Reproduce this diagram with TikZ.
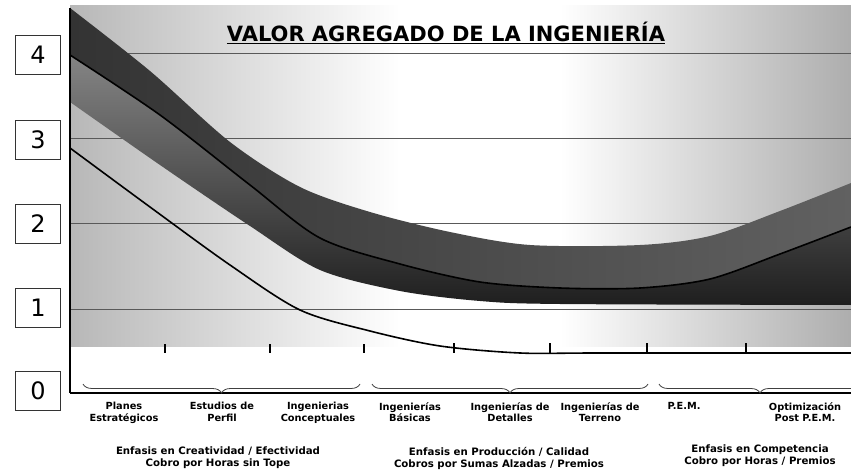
\documentclass[tikz,border=0pt]{standalone}
\usepackage{fontspec}
\setmainfont{DejaVu Sans}
\usetikzlibrary{positioning, decorations.pathreplacing}
\tikzset{
  numbox/.style={draw=black!80, thin, rectangle, minimum width=45pt, minimum height=39pt, inner sep=0pt, font=\fontsize{24}{24}\selectfont},
  cat/.style={anchor=north, align=center, inner sep=0pt, font=\bfseries\fontsize{9.8}{11.5}\selectfont},
  note/.style={anchor=north, align=center, inner sep=0pt, font=\bfseries\fontsize{10.2}{12}\selectfont},
  heading/.style={anchor=base, inner sep=0pt, font=\bfseries\fontsize{21}{21}\selectfont},
  grid line/.style={black!65, line width=0.8pt},
  curve/.style={black, line width=1.6pt},
  axis/.style={black, line width=1.4pt},
  tickmark/.style={black, line width=1.2pt},
  phase/.style={decorate, decoration={brace, mirror, amplitude=9pt}, black!75, line width=0.8pt}
}

\begin{document}
\begin{tikzpicture}[x=1pt, y=-1pt]
    \useasboundingbox (0,0) rectangle (851,470);
    \clip (0,0) rectangle (851,470);

    % background
    \shade[left color=black!28, right color=white] (70,6) rectangle (400,346);
    \fill[white] (400,6) rectangle (560,346);
    \shade[left color=white, right color=black!32] (560,6) rectangle (851,346);

    % levels
    \draw[grid line] (70,53) -- (851,53);
    \draw[grid line] (70,138) -- (851,138);
    \draw[grid line] (70,223) -- (851,223);
    \draw[grid line] (70,309) -- (851,309);

    % band
    \shade[left color=black!80, right color=black!62]
      plot[smooth] coordinates {(70,8) (150,71) (230,142) (300,187) (370,212) (450,232) (530,245) (640,245) (710,236) (780,211) (851,183)}
      -- plot[smooth] coordinates {(851,227) (780,254) (710,279) (640,288) (560,288) (480,282) (400,264) (320,238) (250,185) (160,115) (70,55)}
      -- cycle;
    \shade[top color=black!48, bottom color=black!88]
      plot[smooth] coordinates {(70,55) (160,115) (250,185) (320,238) (400,264) (480,282) (560,288) (640,288) (710,279) (780,254) (851,227)}
      -- plot[smooth] coordinates {(851,305) (560,304) (480,301) (400,291) (320,270) (250,226) (160,165) (70,102)}
      -- cycle;

    % curves
    \draw[curve] plot[smooth] coordinates {(70,55) (160,115) (250,185) (320,238) (400,264) (480,282) (560,288) (640,288) (710,279) (780,254) (851,227)};
    \draw[curve] plot[smooth] coordinates {(70,148) (150,207) (230,265) (300,310) (370,331) (440,346) (520,353) (600,353) (851,353)};

    % axes
    \draw[axis] (70,8) -- (70,393);
    \draw[axis] (70,393) -- (851,393);

    % ticks
    \draw[tickmark] (165,344) -- (165,353);
    \draw[tickmark] (270,344) -- (270,353);
    \draw[tickmark] (364,344) -- (364,353);
    \draw[tickmark] (454,343) -- (454,353);
    \draw[tickmark] (550,343) -- (550,353);
    \draw[tickmark] (647,343) -- (647,353);
    \draw[tickmark] (746,343) -- (746,353);

    % phases
    \draw[phase] (83,384) -- (360,384);
    \draw[phase] (372,384) -- (648,384);
    \draw[phase] (659,384) -- (861,384);

    \node[heading] (title) at (446,42) {\underline{VALOR AGREGADO DE LA INGENIERÍA}};

    \node[numbox] (four) at (38,55) {4};
    \node[numbox] (three) at (38,140) {3};
    \node[numbox] (two) at (38,224) {2};
    \node[numbox] (one) at (38,308) {1};
    \node[numbox] (zero) at (38,391) {0};

    \node[cat] (planes) at (124,402) {Planes\\Estratégicos};
    \node[cat] (perfil) at (222,402) {Estudios de\\Perfil};
    \node[cat] (concept) at (318,402) {Ingenierias\\Conceptuales};
    \node[cat] (basicas) at (410,402) {Ingenierías\\Básicas};
    \node[cat] (detalles) at (510,402) {Ingenierías de\\Detalles};
    \node[cat] (terreno) at (600,402) {Ingenierías de\\Terreno};
    \node[cat] (pem) at (684,402) {P.E.M.};
    \node[cat] (optim) at (805,402) {Optimización\\Post P.E.M.};

    \node[note] (creativ) at (218,447) {Enfasis en Creatividad / Efectividad\\Cobro por Horas sin Tope};
    \node[note] (produc) at (499,447) {Enfasis en Producción / Calidad\\Cobros por Sumas Alzadas / Premios};
    \node[note] (compet) at (760,445) {Enfasis en Competencia\\Cobro por Horas / Premios};
\end{tikzpicture}
\end{document}
